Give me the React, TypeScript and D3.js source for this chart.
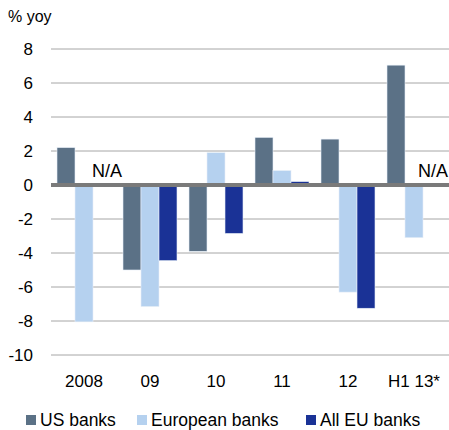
import React from 'react';
import * as d3 from 'd3';

const categories = ['2008', '09', '10', '11', '12', 'H1 13*'];
const series = ['US banks', 'European banks', 'All EU banks'];
const usBanks = [2.2, -5.0, -3.9, 2.8, 2.7, 7.05];
const europeanBanks = [-8.05, -7.15, 1.9, 0.85, -6.3, -3.1];
const allEuBanks: (number | null)[] = [null, -4.45, -2.85, 0.2, -7.25, null];
const yTicks = [8, 6, 4, 2, 0, -2, -4, -6, -8, -10];
const colors = ['#5b7186', '#b5d1ef', '#1a3296'];

const width = 449;
const height = 430;
const margin = { top: 49, right: 0, bottom: 75, left: 51 };
const font = 'Liberation Sans, Arial, sans-serif';

export default function App() {
  const values = [usBanks, europeanBanks, allEuBanks];

  const y = d3.scaleLinear().domain([-10, 8]).range([height - margin.bottom, margin.top]);
  const x0 = d3.scaleBand<string>().domain(categories).range([margin.left, 447]);
  const x1 = d3.scaleBand<string>().domain(series).range([6, x0.bandwidth() - 6]);

  return (
    <svg
      width={width}
      height={height}
      style={{ position: 'absolute', left: 0, top: 0, background: '#fff' }}
      fontFamily={font}
    >
      <text x={8} y={22} fontSize={16} fill="#000">% yoy</text>

      {/* gridlines */}
      {yTicks.filter((t) => t !== 0).map((t) => (
        <line key={t} x1={margin.left} x2={width} y1={y(t)} y2={y(t)} stroke="#a6a6a6" strokeWidth={1} />
      ))}

      {/* y labels */}
      {yTicks.map((t) => (
        <text key={t} x={33} y={y(t)} dy="0.35em" textAnchor="end" fontSize={17} fill="#000">
          {t}
        </text>
      ))}

      {/* bars */}
      {categories.map((c, i) => (
        <g key={c} transform={`translate(${x0(c)},0)`}>
          {series.map((s, j) => {
            const v = values[j][i];
            if (v == null) return null;
            return (
              <rect
                key={s}
                x={x1(s)}
                width={x1.bandwidth()}
                y={y(Math.max(0, v))}
                height={Math.abs(y(v) - y(0))}
                fill={colors[j]}
                stroke="#e6eef7"
                strokeWidth={0.6}
              />
            );
          })}
          {series.map((s, j) =>
            values[j][i] == null ? (
              <text
                key={s}
                x={Math.min(x1(s)! + 29, width - 1 - x0(c)!)}
                y={177}
                textAnchor="end"
                fontSize={18}
                fill="#000"
              >
                N/A
              </text>
            ) : null
          )}
        </g>
      ))}

      {/* zero line */}
      <line x1={margin.left} x2={width} y1={y(0)} y2={y(0)} stroke="#7a7a7a" strokeWidth={4} />

      {/* x labels */}
      {categories.map((c) => (
        <text key={c} x={x0(c)! + x0.bandwidth() / 2} y={387} textAnchor="middle" fontSize={17} fill="#000">
          {c}
        </text>
      ))}

      {/* legend */}
      {series.map((s, j) => {
        const lx = [26, 137, 306][j];
        return (
          <g key={s} transform={`translate(${lx},0)`}>
            <rect x={0} y={415} width={10} height={10} fill={colors[j]} />
            <text x={14} y={426} fontSize={17.5} fill="#000">{s}</text>
          </g>
        );
      })}
    </svg>
  );
}
